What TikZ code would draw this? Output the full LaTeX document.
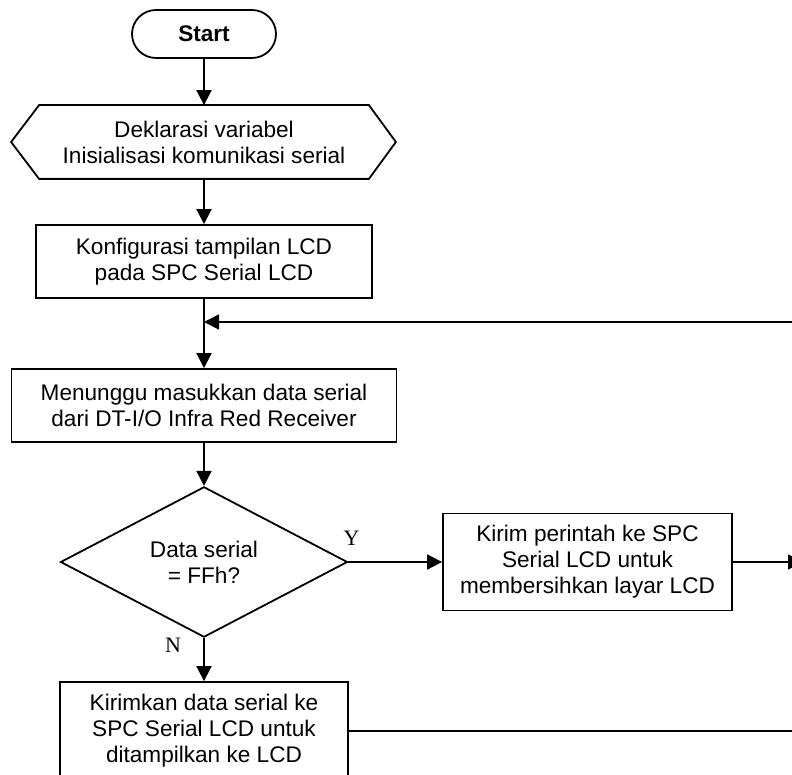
\documentclass[tikz,border=0pt]{standalone}
\usepackage{fontspec}
\setmainfont{Liberation Sans}
\newfontfamily\ynfont{Liberation Serif}
\usepackage{tikz}
\usetikzlibrary{arrows.meta,shapes.geometric}

\begin{document}
\begin{tikzpicture}[x=1pt, y=-1pt, line width=1.8pt,
  every node/.style={font=\fontsize{22.6}{26}\selectfont},
  terminal/.style={draw, rectangle, rounded corners=24pt, inner sep=0pt, font=\fontsize{22.6}{26}\selectfont\bfseries},
  process/.style={draw, rectangle, align=center, inner sep=0pt},
  decision/.style={draw, diamond, align=center, inner sep=0pt},
  flow/.style={-{Triangle[length=15pt,width=15pt]}},
  yn/.style={font=\fontsize{22}{24}\selectfont\ynfont}]
\useasboundingbox (0,0) rectangle (792,775);
\clip (0,0) rectangle (792,775);

% Nodes
\node[terminal, minimum width=144pt, minimum height=48pt] (start) at (204,34) {Start};
\node[inner sep=0pt, align=center, minimum width=328pt, minimum height=72pt] (init) at (204,142) {Deklarasi variabel\\Inisialisasi komunikasi serial};
\node[process, minimum width=336pt, minimum height=73pt] (config) at (204,261.5) {Konfigurasi tampilan LCD\\pada SPC Serial LCD};
\coordinate (loopin) at (204,322);
\node[process, minimum width=385pt, minimum height=73pt] (wait) at (204,405.5) {Menunggu masukkan data serial\\dari DT-I/O Infra Red Receiver};
\node[decision, minimum width=287pt, minimum height=144pt] (check) at (204,562) {Data serial\\= FFh?};
\node[process, minimum width=289pt, minimum height=97pt] (clear) at (587.5,562) {Kirim perintah ke SPC\\Serial LCD untuk\\membersihkan layar LCD};
\node[process, minimum width=288pt, minimum height=98pt] (show) at (204,731) {Kirimkan data serial ke\\SPC Serial LCD untuk\\ditampilkan ke LCD};
\coordinate (loopend) at (800,322);
\coordinate (clearout) at (803,562);
\coordinate (showout) at (800,731);

% Hexagon round init
\draw (init.north west) -- (init.north east) -- ([xshift=27pt]init.east) -- (init.south east) -- (init.south west) -- ([xshift=-28pt]init.west) -- cycle;

% Arrows
\draw[flow] (start) -- (init);
\draw[flow] (init) -- (config);
\draw (config) -- (loopin);
\draw[flow] (loopin) -- (wait);
\draw[flow] (loopend) -- (loopin);
\draw[flow] (wait) -- (check);
\draw[flow] (check) -- (clear);
\draw[flow] (clear) -- (clearout);
\draw[flow] (check) -- (show);
\draw (show) -- (showout);

% Labels
\node[yn] (yes) at (351.5,538) {Y};
\node[yn] (no) at (173,645) {N};
\end{tikzpicture}
\end{document}
